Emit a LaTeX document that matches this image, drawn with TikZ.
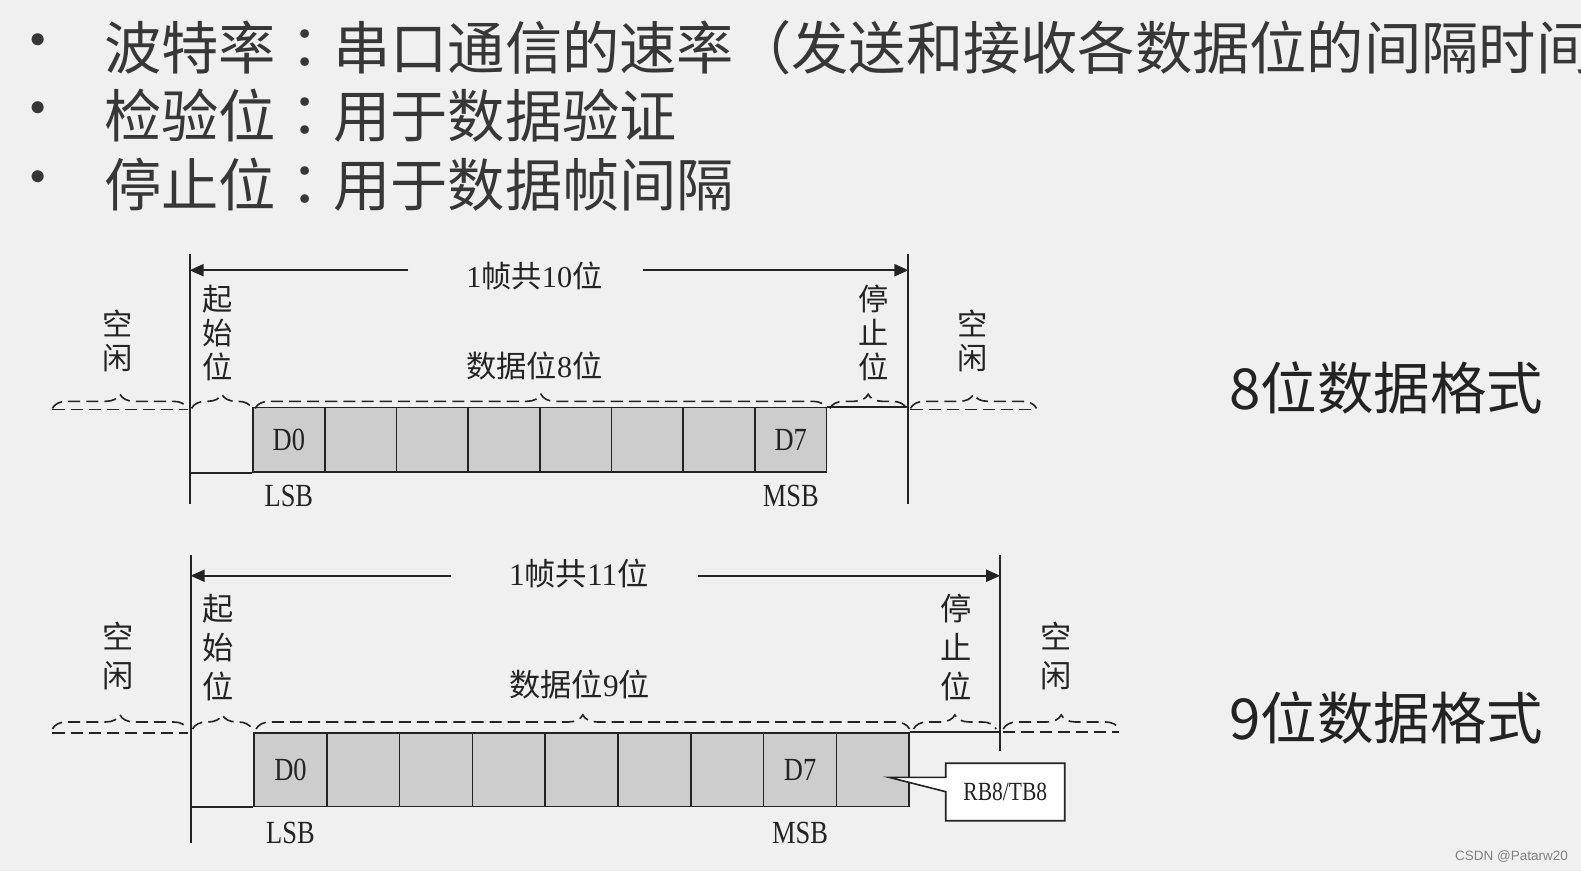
\documentclass[tikz,border=0pt]{standalone}
\usepackage{fontspec}
\setmainfont{Liberation Serif}
\newfontfamily\cjk{Noto Sans CJK SC}
\newfontfamily\cjktc{Noto Sans CJK TC}
\newfontfamily\latinf[FakeStretch=0.82]{Liberation Serif}
\newfontfamily\sansf{Liberation Sans}
\usepackage{tikz}
\usetikzlibrary{
	arrows.meta,
	positioning,
	calc,
	decorations.pathreplacing,
	shapes.callouts
}
\definecolor{bg}{RGB}{240,240,240}
\definecolor{boxgray}{RGB}{205,205,205}
\definecolor{ink}{RGB}{35,35,35}
\definecolor{headtext}{RGB}{55,55,55}
\newcommand{\colonc}{{\cjktc ：}}

\begin{document}
\begin{tikzpicture}[
				x=0.5pt, y=-0.5pt,
				line/.style={draw=ink, line width=1pt},
				arrow/.style={line, -{Triangle[length=7pt,width=6pt]}},
				idle/.style={draw=ink, line width=0.8pt, dash pattern=on 6pt off 3pt},
				bracket/.style={
					idle, decorate, decoration={brace, amplitude=7pt}
				},
				bitbox/.style={
					rectangle, draw=ink, line width=0.8pt, fill=boxgray,
					minimum width=35.55pt, minimum height=32pt, inner sep=0pt,
					text=ink, font=\latinf\fontsize{16}{18}\selectfont
				},
				bitboxb/.style={
					bitbox, minimum width=36.1pt, minimum height=36.5pt
				},
				tag/.style={
					inner sep=0pt, text=ink, font=\latinf\fontsize{16}{18}\selectfont
				},
				lbl/.style={
					inner sep=0pt, text=ink, font=\cjk\fontsize{15}{16.75}\selectfont
				},
				vlbl/.style={
					lbl, align=center
				},
				lblb/.style={
					inner sep=0pt, text=ink, font=\cjk\fontsize{15.5}{19.25}\selectfont
				},
				vlblb/.style={
					lblb, align=center
				},
				fmt/.style={
					inner sep=0pt, text=ink, font=\cjk\fontsize{28}{32}\selectfont
				},
				head/.style={
					anchor=west, inner sep=0pt, text=headtext,
					font=\cjk\fontsize{28.4}{34}\selectfont
				},
				rbox/.style={
					rectangle callout, draw=ink, line width=0.8pt, fill=white,
					minimum width=59pt, minimum height=28.5pt, inner sep=0pt,
					text=ink, font=\latinf\fontsize{13}{15}\selectfont
				},
				]
				\fill[bg] (0,0) rectangle (1568,864);
				\useasboundingbox (0,0) rectangle (1568,864);
				
				%bullets
				\node[head, anchor=center] (dot1) at (38,47) {•};
				\node[head] (baud) at (103,47) {波特率\colonc 串口通信的速率（发送和接收各数据位的间隔时间};
				\node[head, anchor=center] (dot2) at (38,115) {•};
				\node[head] (parity) at (103,115) {检验位\colonc 用于数据验证};
				\node[head, anchor=center] (dot3) at (38,183) {•};
				\node[head] (stopbit) at (103,183) {停止位\colonc 用于数据帧间隔};
				
				%first set
				\coordinate (topA) at (188,252);
				\coordinate (botA) at (188,500);
				\coordinate (topB) at (901,252);
				\coordinate (botB) at (901,500);
				\draw[line] (topA) -- (botA);
				\draw[line] (topB) -- (botB);
				
				\node[lbl] (frameA) at (530,274) {{\rmfamily 1}帧共{\rmfamily 10}位};
				\coordinate (arA) at (405,268);
				\coordinate (arB) at (638,268);
				\draw[arrow] (arA) -- (topA |- arA);
				\draw[arrow] (arB) -- (topB |- arB);
				
				\foreach \t [count=\i from 0] in {D0,{},{},{},{},{},{},D7}
					\node[bitbox] (fa\i) at ({286.5+71.1*\i},436) {\t};
				\draw[line] (botA |- fa0.south) -- (fa0.south west);
				\draw[line] (fa7.north east) -- (topB |- fa7.north);
				
				\draw[idle] (52,406) -- (186,406);
				\draw[idle] (903,406) -- (1028,406);
				\draw[bracket] (52,405) -- (186,405);
				\draw[bracket] (190,405) -- (250,405);
				\draw[bracket] (253,405) -- (820,405);
				\draw[bracket] (823,405) -- (899,405);
				\draw[bracket] (903,405) -- (1028,405);
				
				\node[vlbl] (idleA) at (117,338) {空\\闲};
				\node[vlbl] (startA) at (216,330) {起\\始\\位};
				\node[lbl] (dataA) at (530,363) {数据位{\rmfamily 8}位};
				\node[vlbl] (stopA) at (866,330) {停\\止\\位};
				\node[vlbl] (idleB) at (965,338) {空\\闲};
				\node[tag, below=6pt of fa0] (lsbA) {LSB};
				\node[tag, below=6pt of fa7] (msbA) {MSB};
				\node[fmt] (fmtA) at (1375,385) {8位数据格式};
				
				%2. set
				\coordinate (topC) at (189,550);
				\coordinate (botC) at (189,836);
				\coordinate (topD) at (992,550);
				\coordinate (botD) at (992,745);
				\draw[line] (topC) -- (botC);
				\draw[line] (topD) -- (botD);
				
				\node[lblb] (frameB) at (574,569) {{\rmfamily 1}帧共{\rmfamily 11}位};
				\coordinate (arC) at (447,571);
				\coordinate (arD) at (692,571);
				\draw[arrow] (arC) -- (topC |- arC);
				\draw[arrow] (arD) -- (topD |- arD);
				
				\foreach \t [count=\i from 0] in {D0,{},{},{},{},{},{},D7,{}}
					\node[bitboxb] (fb\i) at ({288.1+72.2*\i},763.5) {\t};
				\draw[line] (botC |- fb0.south) -- (fb0.south west);
				\draw[line] (fb8.north east) -- (topD |- fb8.north);
				
				\draw[idle] (52,727) -- (186,727);
				\draw[idle] (995,726) -- (1110,726);
				\draw[bracket] (52,723) -- (186,723);
				\draw[bracket] (191,723) -- (250,723);
				\draw[bracket] (254,723) -- (902,723);
				\draw[bracket] (906,723) -- (988,723);
				\draw[bracket] (995,723) -- (1110,723);
				
				\node[vlblb] (idleC) at (117,651) {空\\闲};
				\node[vlblb] (startC) at (216,642) {起\\始\\位};
				\node[lblb] (dataC) at (575,679) {数据位{\rmfamily 9}位};
				\node[vlblb] (stopC) at (948,642) {停\\止\\位};
				\node[vlblb] (idleD) at (1047,651) {空\\闲};
				\node[tag, below=7pt of fb0] (lsbB) {LSB};
				\node[tag, below=7pt of fb7] (msbB) {MSB};
				\node[fmt] (fmtB) at (1375,712) {9位数据格式};
				
				\coordinate (ptr) at (882,771);
				\node[rbox, callout absolute pointer={(ptr)}] (rbtb) at (997,785.5) {RB8/TB8};
				
				\node[inner sep=0pt, text=gray, font=\sansf\fontsize{6.7}{8}\selectfont] (mark) at (1499,849) {CSDN @Patarw20};
			\end{tikzpicture}
\end{document}
